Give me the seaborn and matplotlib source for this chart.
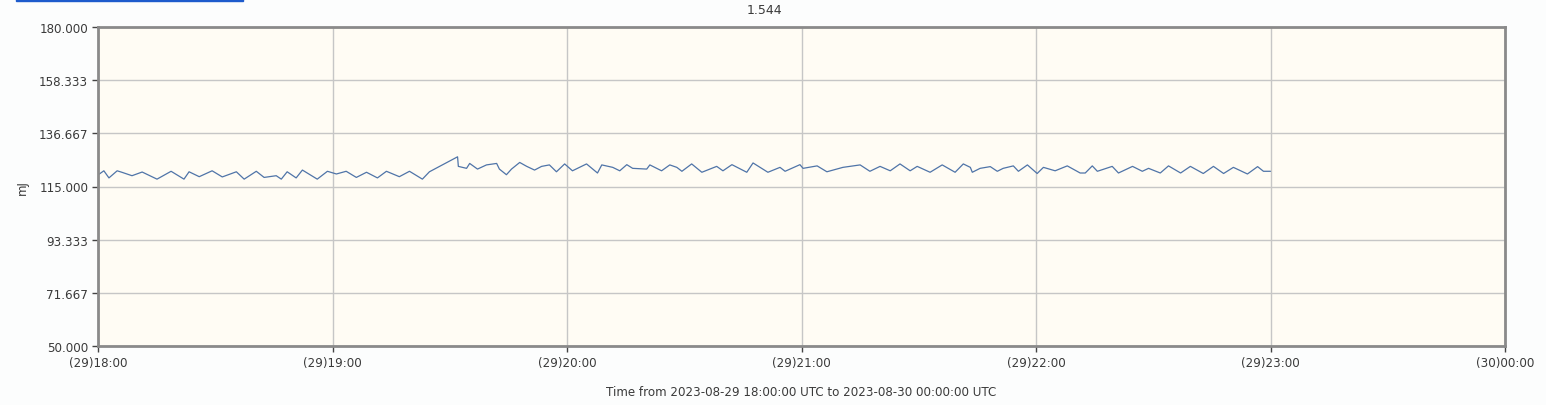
import numpy as np
import pandas as pd
import seaborn as sns
import matplotlib.pyplot as plt
import matplotlib.dates as mdates
from matplotlib.patches import Rectangle

# minutes after 2023-08-29 18:00 UTC
minutes = [0, 1.5, 2.8, 4.9, 6.1, 8.7, 11.3, 15.1, 18.7, 22.0, 23.3, 25.9, 29.2, 31.8,
           35.4, 37.4, 40.5, 42.5, 45.6, 46.9, 48.4, 50.7, 52.3, 56.1, 58.7, 61.0, 63.5,
           66.1, 68.7, 71.5, 73.8, 77.1, 79.7, 83.0, 84.8,
           92.0, 92.2, 94.3, 95.1, 97.1, 99.4, 102.0, 102.7, 104.5, 105.8, 107.9, 109.7,
           111.7, 113.5, 115.5, 117.3, 119.4, 121.4, 125.0, 127.8, 128.9, 131.7, 133.5,
           135.3, 136.8, 140.4, 141.2, 144.2, 146.3, 148.1, 149.4, 151.9, 154.5, 158.3,
           159.9, 162.2, 166.0, 167.6, 171.4, 174.5, 175.8, 179.6, 180.4, 184.0, 186.5,
           190.6, 195.0, 197.5, 200.1, 202.7, 205.2, 207.8, 209.6, 212.9, 216.0, 219.3,
           221.4, 223.2, 223.7, 225.7, 228.3, 230.1, 231.6, 234.2, 235.5, 237.8, 240.3,
           241.9, 244.9, 248.0, 251.3, 252.6, 254.4, 255.7, 259.5, 261.1, 264.7, 267.2,
           268.8, 271.8, 273.9, 277.0, 279.5, 282.8, 285.4, 288.0, 290.5, 294.1, 296.7,
           298.2, 300.0]
energy = [119.7, 121.4, 118.5, 121.4, 120.8, 119.4, 120.9, 118.0, 121.2, 118.0, 121.0,
          119.0, 121.4, 118.9, 121.0, 118.0, 121.2, 118.7, 119.4, 118.0, 121.0, 118.5,
          121.7, 118.0, 121.2, 120.1, 121.2, 118.7, 120.8, 118.5, 121.2, 119.0, 121.2,
          118.0, 121.0,
          127.1, 123.2, 122.4, 124.4, 122.1, 123.8, 124.4, 122.1, 119.8, 122.1, 124.8,
          123.2, 121.7, 123.2, 123.8, 121.0, 124.2, 121.4, 124.2, 120.5, 123.8, 122.8,
          121.4, 123.9, 122.4, 122.1, 123.8, 121.4, 123.8, 122.8, 121.2, 124.2, 120.8,
          123.2, 121.4, 123.9, 120.8, 124.6, 120.8, 122.8, 121.2, 123.9, 122.4, 123.4,
          121.0, 122.8, 123.8, 121.2, 123.2, 121.4, 124.2, 121.4, 123.2, 120.8, 123.8,
          120.8, 124.2, 122.8, 120.8, 122.4, 123.1, 121.2, 122.4, 123.4, 121.2, 123.8,
          120.3, 122.8, 121.4, 123.4, 120.5, 120.5, 123.4, 121.2, 123.2, 120.5, 123.2,
          121.2, 122.4, 120.5, 123.4, 120.5, 123.2, 120.3, 123.2, 120.3, 122.8, 120.1,
          123.1, 121.2, 121.2]
y_ticks = [50.0, 71.667, 93.333, 115.0, 136.667, 158.333, 180.0]

start = pd.Timestamp("2023-08-29 18:00:00")
end = pd.Timestamp("2023-08-30 00:00:00")
df = pd.DataFrame({"time": start + pd.to_timedelta(minutes, unit="min"), "energy": energy})

sns.set_style("white")
plt.rcParams['font.family'] = ['DejaVu Sans']

fig = plt.figure(figsize=(15.46, 4.06), dpi=100, facecolor="#fcfdfd")
ax = fig.add_axes([98 / 1546, 1 - 347 / 406, (1505 - 98) / 1546, (347 - 28) / 406])
ax.set_facecolor("#fffcf4")

sns.lineplot(data=df, x="time", y="energy", ax=ax, color="#4f74a8", linewidth=0.9)

ax.set_xlim(start, end)
ax.set_ylim(50, 180)
ax.set_yticks(y_ticks)
ax.yaxis.set_major_formatter(plt.FormatStrFormatter('%.3f'))
ax.xaxis.set_major_locator(mdates.HourLocator())
ax.xaxis.set_major_formatter(mdates.DateFormatter('(%d)%H:%M'))
ax.grid(True, color="#c6c6c6", linewidth=1)
ax.tick_params(axis="both", labelsize=8.6, colors="#444444", length=4, width=1,
               direction="out", left=True, bottom=True, pad=3)
for lbl in ax.get_xticklabels() + ax.get_yticklabels():
    lbl.set_color("#3a3a3a")
for s in ax.spines.values():
    s.set_color("#8a8a8a")
    s.set_linewidth(2)

ax.set_xlabel("Time from 2023-08-29 18:00:00 UTC to 2023-08-30 00:00:00 UTC",
              fontsize=8.6, color="#3a3a3a", labelpad=11.5)
ax.set_ylabel("mJ", fontsize=8.6, color="#3a3a3a", labelpad=7)

fig.text(764 / 1546, 1 - 11 / 406, "1.544", ha="center", va="center",
         fontsize=9, color="#3a3a3a")
fig.patches.append(Rectangle((16 / 1546, 1 - 2 / 406), 227 / 1546, 2 / 406,
                             transform=fig.transFigure, color="#1d5bcc"))

fig.savefig("out.png", dpi=100, facecolor=fig.get_facecolor())
